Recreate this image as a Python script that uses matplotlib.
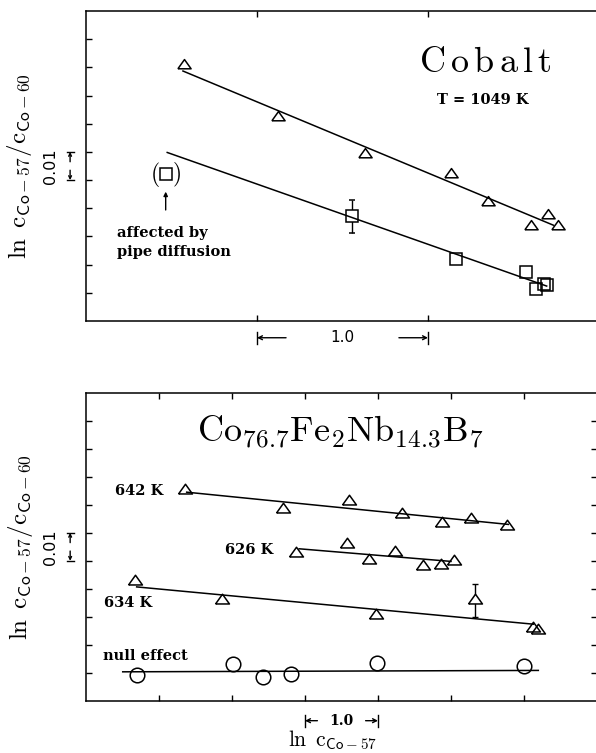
import numpy as np
import matplotlib
matplotlib.use("Agg")
import matplotlib.pyplot as plt

plt.rcParams["mathtext.fontset"] = "cm"

# ---------------- data (units: x in ln c, y in 0.01 steps) ----------------
# top panel, Cobalt at 1049 K
cob_tri_x = [0.575, 1.121, 1.632, 2.135, 2.353, 2.602, 2.700, 2.762]
cob_tri_y = [9.08, 7.24, 5.92, 5.21, 4.24, 3.37, 3.76, 3.38]
cob_tri_fit_x = [0.567, 2.733]
cob_tri_fit_y = [8.87, 3.40]

cob_sq_x = [2.162, 2.571, 2.630, 2.678, 2.694]
cob_sq_y = [2.20, 1.73, 1.15, 1.30, 1.28]
cob_sq_err_x = [1.554]
cob_sq_err_y = [3.72]
cob_sq_err = [0.58]
cob_pipe_x = [0.466]
cob_pipe_y = [5.20]
cob_sq_fit_x = [0.475, 2.694]
cob_sq_fit_y = [5.98, 1.24]

# bottom panel, Co76.7Fe2Nb14.3B7
k642_x = [1.356, 2.703, 3.607, 4.329, 4.873, 5.274, 5.771]
k642_y = [7.53, 6.86, 7.12, 6.68, 6.35, 6.49, 6.23]
k642_fit_x = [1.379, 5.785]
k642_fit_y = [7.45, 6.30]

k626_x = [2.877, 3.579, 3.881, 4.233, 4.612, 4.863, 5.041]
k626_y = [5.28, 5.59, 5.04, 5.31, 4.80, 4.84, 5.01]
k626_fit_x = [2.92, 5.00]
k626_fit_y = [5.43, 4.98]

k634_x = [0.671, 1.859, 3.973, 6.119, 6.196]
k634_y = [4.28, 3.59, 3.05, 2.61, 2.53]
k634_err_x = [5.329]
k634_err_y = [3.59]
k634_err = [0.6]
k634_fit_x = [0.694, 6.127]
k634_fit_y = [4.07, 2.74]

null_x = [0.695, 2.018, 2.421, 2.808, 3.990, 6.000]
null_y = [0.93, 1.32, 0.86, 0.96, 1.36, 1.26]
null_fit_x = [0.503, 6.196]
null_fit_y = [1.04, 1.09]

top_ticks_x = [1, 2]
bot_ticks_x = [1, 2, 3, 4, 5, 6]
ticks_y = list(range(1, 11))

# flat open triangle marker
tri = [(-1, -0.5), (1, -0.5), (0, 0.9), (-1, -0.5)]

ylab = r"$\ln\ \mathrm{c}_{\mathsf{Co-57}}/\mathrm{c}_{\mathsf{Co-60}}$"
small = dict(family="DejaVu Serif", weight="bold", fontsize=10.5)

fig = plt.figure(figsize=(5.96, 7.53), dpi=100)
ax1 = fig.add_axes([0.1443, 0.5737, 0.8607, 0.4117])
ax2 = fig.add_axes([0.1443, 0.0691, 0.8574, 0.4094])


def frame(ax, xmax, xt, right):
    ax.set_xlim(0, xmax)
    ax.set_ylim(0, 11)
    ax.set_xticks(xt)
    ax.set_yticks(ticks_y)
    ax.tick_params(direction="in", length=4.3, width=1, top=True, right=right,
                   labelbottom=False, labelleft=False)
    ax.spines["right"].set_visible(False)
    for s in ax.spines.values():
        s.set_linewidth(1.1)


def scalebar(ax, x0, x1, y, txt, font):
    tr = ax.get_xaxis_transform()
    w = (x1 - x0) * 0.17
    for a, b in [(x0 + w, x0), (x1 - w, x1)]:
        ax.annotate("", xy=(b, y), xytext=(a, y), xycoords=tr, textcoords=tr,
                    arrowprops=dict(arrowstyle="->", lw=1, mutation_scale=7,
                                    shrinkA=0, shrinkB=0))
        ax.plot([b, b], [y - 0.02, y + 0.02], transform=tr, color="k", lw=1,
                clip_on=False)
    ax.text((x0 + x1) / 2, y, txt, transform=tr, ha="center", va="center", **font)


def ybar(ax, xa):
    tr = ax.get_yaxis_transform()
    for a, b in [(5.35, 5), (5.65, 6)]:
        ax.annotate("", xy=(xa, b), xytext=(xa, a), xycoords=tr, textcoords=tr,
                    arrowprops=dict(arrowstyle="->", lw=1, mutation_scale=5,
                                    shrinkA=0, shrinkB=0))
        ax.plot([xa - 0.007, xa + 0.007], [b, b], transform=tr, color="k", lw=1,
                clip_on=False)
    ax.text(-0.069, 5.5, "0.01", transform=tr, rotation=90, ha="center",
            va="center", fontsize=11.5, family="DejaVu Sans")
    ax.text(-0.129, 0.5, ylab, transform=ax.transAxes, rotation=90,
            ha="center", va="center", fontsize=18)


# ---------------- top panel ----------------
frame(ax1, 3, top_ticks_x, False)
ax1.plot(cob_tri_fit_x, cob_tri_fit_y, color="k", lw=1.1, zorder=3)
ax1.plot(cob_sq_fit_x, cob_sq_fit_y, color="k", lw=1.1, zorder=3)
ax1.plot(cob_tri_x, cob_tri_y, ls="none", marker=tri, ms=9.5, mfc="none",
         mec="k", mew=1.1)
ax1.plot(cob_sq_x, cob_sq_y, ls="none", marker="s", ms=8.5, mfc="none",
         mec="k", mew=1.1)
ax1.errorbar(cob_sq_err_x, cob_sq_err_y, yerr=cob_sq_err, fmt="s", ms=8.5,
             mfc="white", mec="k", mew=1.1, ecolor="k", elinewidth=1,
             capsize=2, zorder=2)
ax1.plot(cob_pipe_x, cob_pipe_y, ls="none", marker="s", ms=8.5, mfc="none",
         mec="k", mew=1.1)
ax1.text(cob_pipe_x[0] - 0.062, cob_pipe_y[0], "$($", ha="center",
         va="center", fontsize=17)
ax1.text(cob_pipe_x[0] + 0.062, cob_pipe_y[0], "$)$", ha="center",
         va="center", fontsize=17)
ax1.annotate("", xy=(cob_pipe_x[0], 4.59), xytext=(cob_pipe_x[0], 3.94),
             arrowprops=dict(arrowstyle="-|>", lw=1, mutation_scale=6,
                             color="k", shrinkA=0, shrinkB=0))
ax1.text(0.181, 2.78, "affected by\npipe diffusion", ha="left", va="center",
         linespacing=1.45, **small)
ax1.text(2.333, 8.84, r"$\mathrm{C\,o\,b\,a\,l\,t}$", ha="center",
         va="baseline", fontsize=26)
ax1.text(2.322, 7.84, "T = 1049 K", ha="center", va="center", **small)
scalebar(ax1, 1, 2, -0.054, "1.0", dict(family="DejaVu Sans", fontsize=11))
ybar(ax1, -0.031)

# ---------------- bottom panel ----------------
frame(ax2, 7, bot_ticks_x, True)
for fx, fy in [(k642_fit_x, k642_fit_y), (k626_fit_x, k626_fit_y),
               (k634_fit_x, k634_fit_y), (null_fit_x, null_fit_y)]:
    ax2.plot(fx, fy, color="k", lw=1.1, zorder=3)
for px, py in [(k642_x, k642_y), (k626_x, k626_y), (k634_x, k634_y)]:
    ax2.plot(px, py, ls="none", marker=tri, ms=10, mfc="none", mec="k",
             mew=1.1)
ax2.errorbar(k634_err_x, k634_err_y, yerr=k634_err, fmt="none", ecolor="k",
             elinewidth=1, capsize=2, zorder=1)
ax2.plot(k634_err_x, k634_err_y, ls="none", marker=tri, ms=10, mfc="white",
         mec="k", mew=1.1, zorder=2)
ax2.plot(null_x, null_y, ls="none", marker="o", ms=10.5, mfc="none", mec="k",
         mew=1.1)
ax2.text(1.055, 7.48, "642 K", ha="right", va="center", **small)
ax2.text(2.562, 5.37, "626 K", ha="right", va="center", **small)
ax2.text(0.247, 3.49, "634 K", ha="left", va="center", **small)
ax2.text(0.233, 1.60, "null effect", ha="left", va="center", **small)
ax2.text(1.52, 9.23,
         r"$\mathrm{Co}_{76.7}\mathrm{Fe}_{2}\mathrm{Nb}_{14.3}\mathrm{B}_{7}$",
         ha="left", va="baseline", fontsize=26)
scalebar(ax2, 3, 4, -0.064, "1.0", dict(small, fontsize=10))
ybar(ax2, -0.031)
ax2.text(3.38, -0.146, r"$\ln\ \mathrm{c}_{\mathsf{Co-57}}$",
         transform=ax2.get_xaxis_transform(), ha="center", va="baseline",
         fontsize=15.5)

fig.savefig("out.png", dpi=100)
